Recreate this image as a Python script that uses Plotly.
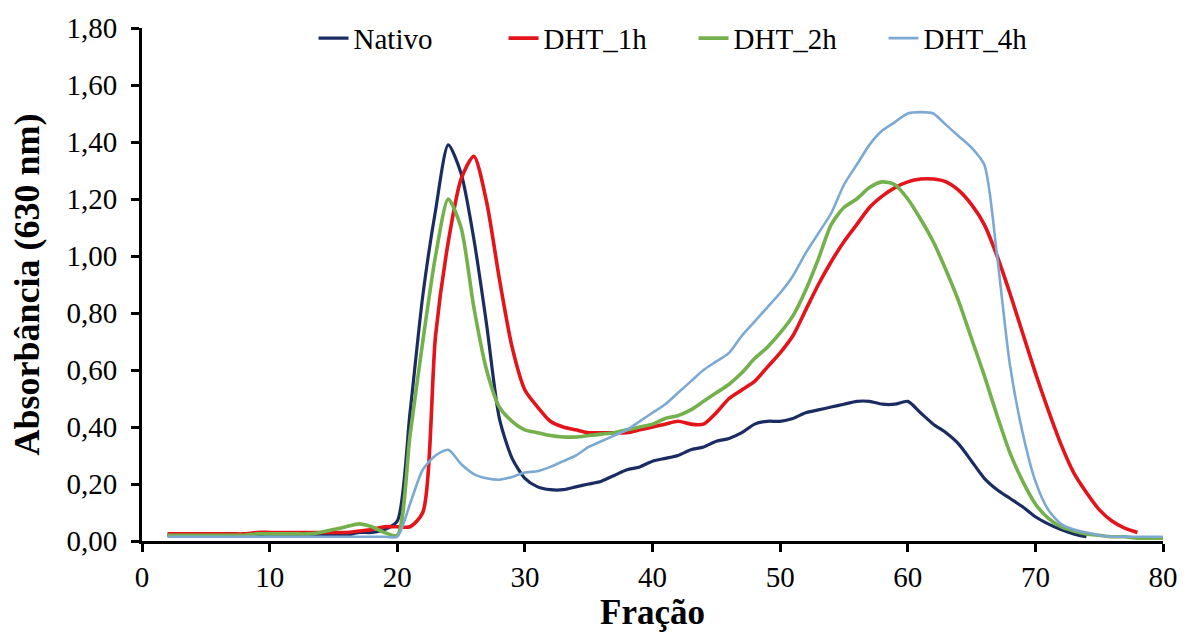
import plotly.graph_objects as go

# ---- data ----
fracao_nativo = list(range(2, 75))
nativo = [0.02, 0.02, 0.02, 0.02, 0.02, 0.02, 0.02, 0.02, 0.02, 0.02, 0.02, 0.02, 0.02, 0.02, 0.02,
          0.03, 0.03, 0.04, 0.07, 0.45, 0.86, 1.16, 1.39, 1.29, 1.06, 0.76, 0.43, 0.29, 0.22, 0.19,
          0.18, 0.18, 0.19, 0.20, 0.21, 0.23, 0.25, 0.26, 0.28, 0.29, 0.30, 0.32, 0.33, 0.35, 0.36,
          0.38, 0.41, 0.42, 0.42, 0.43, 0.45, 0.46, 0.47, 0.48, 0.49, 0.49, 0.48, 0.48, 0.49, 0.45,
          0.41, 0.38, 0.34, 0.28, 0.22, 0.18, 0.15, 0.12, 0.085, 0.06, 0.04, 0.025, 0.015]

fracao_1h = list(range(2, 79))
dht_1h = [0.025, 0.025, 0.025, 0.025, 0.025, 0.025, 0.025, 0.03, 0.03, 0.03, 0.03, 0.03, 0.03, 0.03,
          0.03, 0.035, 0.04, 0.05, 0.05, 0.05, 0.10, 0.72, 1.05, 1.27, 1.35, 1.19, 0.92, 0.68, 0.53,
          0.47, 0.42, 0.40, 0.39, 0.38, 0.38, 0.38, 0.38, 0.39, 0.40, 0.41, 0.42, 0.41, 0.41, 0.45,
          0.50, 0.53, 0.56, 0.61, 0.66, 0.72, 0.81, 0.90, 0.98, 1.05, 1.11, 1.17, 1.21, 1.24, 1.26,
          1.27, 1.27, 1.26, 1.23, 1.18, 1.11, 1.00, 0.87, 0.73, 0.59, 0.46, 0.34, 0.24, 0.17, 0.11,
          0.07, 0.045, 0.03]

fracao_2h = list(range(2, 81))
dht_2h = [0.02, 0.02, 0.02, 0.02, 0.02, 0.02, 0.02, 0.025, 0.025, 0.025, 0.025, 0.025, 0.03, 0.04,
          0.05, 0.06, 0.05, 0.03, 0.02, 0.37, 0.70, 1.00, 1.20, 1.10, 0.82, 0.60, 0.47, 0.42, 0.39,
          0.38, 0.37, 0.365, 0.365, 0.37, 0.375, 0.38, 0.39, 0.40, 0.41, 0.43, 0.44, 0.46, 0.49, 0.52,
          0.55, 0.59, 0.64, 0.68, 0.73, 0.79, 0.88, 0.99, 1.11, 1.17, 1.20, 1.24, 1.26, 1.25, 1.20,
          1.13, 1.05, 0.95, 0.84, 0.71, 0.58, 0.44, 0.31, 0.21, 0.13, 0.08, 0.05, 0.035, 0.025, 0.02,
          0.015, 0.015, 0.01, 0.01, 0.01]

fracao_4h = list(range(2, 81))
dht_4h = [0.015, 0.015, 0.015, 0.015, 0.015, 0.015, 0.015, 0.015, 0.015, 0.015, 0.015, 0.015, 0.015,
          0.015, 0.015, 0.015, 0.015, 0.015, 0.015, 0.13, 0.25, 0.30, 0.32, 0.27, 0.235, 0.22, 0.215,
          0.225, 0.24, 0.245, 0.26, 0.28, 0.30, 0.33, 0.35, 0.37, 0.39, 0.42, 0.45, 0.48, 0.52, 0.56,
          0.60, 0.63, 0.66, 0.72, 0.77, 0.82, 0.87, 0.93, 1.01, 1.08, 1.15, 1.25, 1.32, 1.39, 1.44,
          1.47, 1.50, 1.505, 1.50, 1.46, 1.42, 1.38, 1.32, 1.00, 0.62, 0.38, 0.21, 0.11, 0.06, 0.04,
          0.03, 0.02, 0.015, 0.015, 0.015, 0.015, 0.015]

series = [
    ("Nativo", fracao_nativo, nativo, "#1B2C62", 3.2),
    ("DHT_1h", fracao_1h, dht_1h, "#E4141B", 3.6),
    ("DHT_2h", fracao_2h, dht_2h, "#74B04C", 3.6),
    ("DHT_4h", fracao_4h, dht_4h, "#7CA9D3", 2.6),
]

x_ticks = [0, 10, 20, 30, 40, 50, 60, 70, 80]
y_ticks = [0.0, 0.2, 0.4, 0.6, 0.8, 1.0, 1.2, 1.4, 1.6, 1.8]
y_tick_labels = ["0,00", "0,20", "0,40", "0,60", "0,80", "1,00", "1,20", "1,40", "1,60", "1,80"]

FONT = "Liberation Serif"

fig = go.Figure()
for name, xs, ys, color, width in series:
    fig.add_trace(go.Scatter(
        x=xs, y=ys, name=name, mode="lines",
        line=dict(color=color, width=width, shape="spline", smoothing=0.7),
    ))

fig.update_layout(
    width=1190, height=634,
    margin=dict(l=142, r=16, t=28, b=93),
    paper_bgcolor="white", plot_bgcolor="white",
    font=dict(family=FONT, color="black", size=29),
    showlegend=True,
    legend=dict(orientation="h", x=0.168, xanchor="left", y=0.98, yanchor="middle",
                font=dict(family=FONT, size=29, color="black"),
                bgcolor="rgba(0,0,0,0)", itemwidth=30, tracegroupgap=0,
                entrywidth=145, entrywidthmode="pixels"),
    xaxis=dict(range=[0, 80], tickvals=x_ticks, showline=True, linecolor="black", linewidth=3,
               ticks="outside", ticklen=8, tickwidth=3, tickcolor="black", showgrid=False,
               zeroline=False, tickfont=dict(family=FONT, size=29),
               title=dict(text="<b>Fração</b>", font=dict(family=FONT, size=35), standoff=4)),
    yaxis=dict(range=[0, 1.8], tickvals=y_ticks, ticktext=y_tick_labels, showline=True,
               linecolor="black", linewidth=3, ticks="outside", ticklen=8, tickwidth=3,
               tickcolor="black", showgrid=False, zeroline=False,
               ticklabelstandoff=8,
               tickfont=dict(family=FONT, size=29),
               title=dict(text="<b>Absorbância (630 nm)</b>", font=dict(family=FONT, size=36),
                          standoff=16)),
)

fig.write_html("out.html")
